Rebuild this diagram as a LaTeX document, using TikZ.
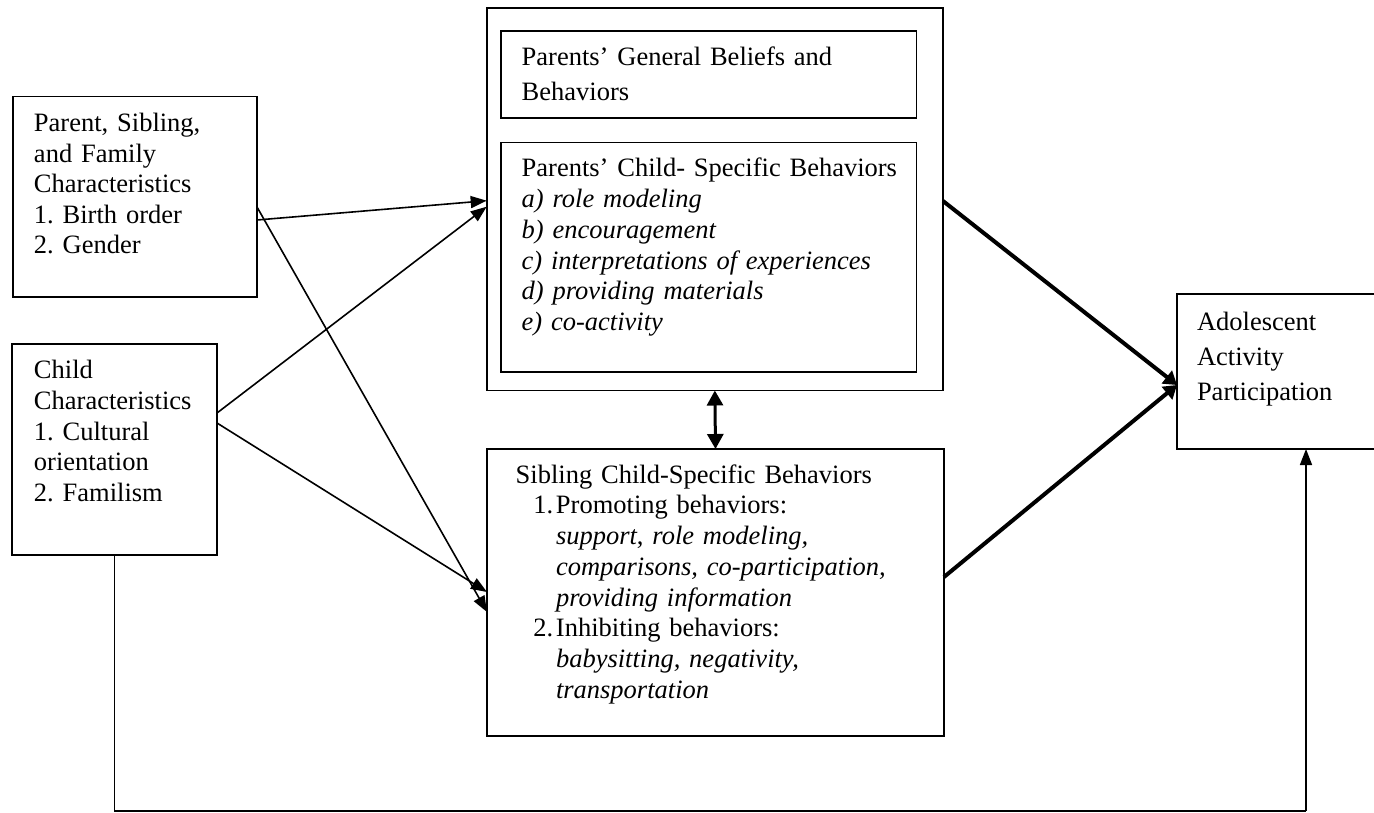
\documentclass[tikz,border=0pt]{standalone}
\usepackage{fontspec}
\setmainfont{Liberation Serif}
\usetikzlibrary{arrows.meta,calc}
\frenchspacing
\begin{document}
\begin{tikzpicture}[x=1pt,y=-1pt,
  box/.style={draw, line width=1.6pt, anchor=north west, inner sep=0pt, outer sep=0pt},
  txt/.style={anchor=north west, inner sep=0pt, outer sep=0pt, align=left, text width=420pt},
  thinarrow/.style={line width=1.6pt, -{Triangle[length=16pt,width=12pt]}},
  thickarrow/.style={line width=4pt, -{Triangle[length=13pt,width=16pt]}},
  dblarrow/.style={line width=3pt, {Triangle[length=15pt,width=16pt]}-{Triangle[length=15pt,width=16pt]}},
  plain/.style={line width=1.6pt}]
\useasboundingbox (0,0) rectangle (1374,813);

% boxes
\node[box, minimum width=244.3pt, minimum height=200.3pt] (A) at (12.7,96.7) {};
\node[box, minimum width=205pt, minimum height=211pt] (B) at (12,344) {};
\node[box, minimum width=456.3pt, minimum height=382.2pt] (P) at (486.7,8.3) {};
\node[box, minimum width=415.5pt, minimum height=87pt] (P1) at (501,31) {};
\node[box, minimum width=415.5pt, minimum height=229.3pt] (P2) at (501,142.7) {};
\node[box, minimum width=457pt, minimum height=287pt] (S) at (487,449) {};
\node[box, minimum width=201pt, minimum height=155pt] (D) at (1177,294) {};

% texts
\node[txt, font=\fontsize{26.5}{30.5}\selectfont] (tA) at (34,110.3)
  {\strut Parent, Sibling,\\and Family\\Characteristics\\1. Birth order\\2. Gender};
\node[txt, font=\fontsize{26.5}{30.8}\selectfont] (tB) at (34,357)
  {\strut Child\\Characteristics\\1. Cultural\\orientation\\2. Familism};
\node[txt, font=\fontsize{26.5}{35}\selectfont] (tP1) at (521.7,41.2)
  {\strut Parents’ General Beliefs and\\Behaviors};
\node[txt, font=\fontsize{26.5}{30.8}\selectfont] (tP2) at (521.7,155.1)
  {\strut Parents’ Child- Specific Behaviors\\\textit{a) role modeling}\\\textit{b) encouragement}\\\textit{c) interpretations of experiences}\\\textit{d) providing materials}\\\textit{e) co-activity}};
\node[txt, font=\fontsize{26.5}{30.7}\selectfont] (tS) at (515.7,461.8)
  {\strut Sibling Child-Specific Behaviors\\
   \hspace*{17.6pt}\makebox[22.7pt][l]{1.}Promoting behaviors:\\
   \hspace*{40.3pt}\textit{support}, \textit{role modeling,}\\
   \hspace*{40.3pt}\textit{comparisons, co-participation,}\\
   \hspace*{40.3pt}\textit{providing information}\\
   \hspace*{17.6pt}\makebox[22.7pt][l]{2.}Inhibiting behaviors:\\
   \hspace*{40.3pt}\textit{babysitting, negativity,}\\
   \hspace*{40.3pt}\textit{transportation}};
\node[txt, font=\fontsize{26.5}{35.3}\selectfont] (tD) at (1197,305.3)
  {\strut Adolescent\\Activity\\Participation};

% thin arrows
\draw[thinarrow] ([yshift=-123.3pt]A.north east) -- ([yshift=-192.4pt]P.north west);
\draw[thinarrow] ([yshift=-110.3pt]A.north east) -- ([yshift=-163pt]S.north west);
\draw[thinarrow] ([yshift=-69pt]B.north east) -- ([yshift=-198.4pt]P.north west);
\draw[thinarrow] ([yshift=-79pt]B.north east) -- ([yshift=-143pt]S.north west);

% double arrow
\draw[dblarrow] (P.south) -- (S.north);

% thick arrows
\coordinate (din) at ([yshift=-91pt]D.north west);
\draw[thickarrow] ([yshift=-192.7pt]P.north east) -- (din);
\draw[thickarrow] ([yshift=-128pt]S.north east) -- (din);

% bottom path
\coordinate (br) at (1306,811);
\coordinate (dt) at ([xshift=129pt]D.south west);
\draw[plain] (B.south) |- (br);
\draw[thinarrow] (br) -- (dt);
\end{tikzpicture}
\end{document}
